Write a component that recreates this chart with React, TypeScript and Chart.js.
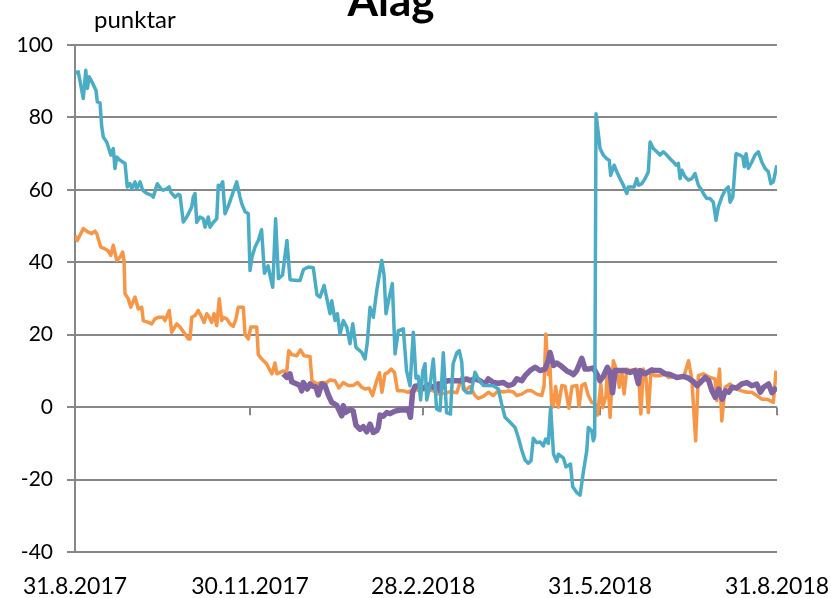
import { useEffect, useRef } from "react";
import { Chart, registerables } from "chart.js";
Chart.register(...registerables);

const TITLE = "Álag";
const UNIT_LABEL = "punktar";
const xTickDays = [0, 91, 181, 273, 365];
const xTickLabels = ["31.8.2017", "30.11.2017", "28.2.2018", "31.5.2018", "31.8.2018"];
const yMin = -40;
const yMax = 100;
const yStep = 20;

// [days after 31.8.2017, value]
const blueSeries = [[0,92.3],[1.7,92.6],[4.3,85.2],[5.6,93],[6.4,88],[7.4,91.2],[9.2,89.4],[10.9,87.5],[11.6,84.3],[13,84],[13.9,77.4],[14.7,74.6],[16.5,73.2],[17.3,71.9],[18.6,69.6],[19.9,71.4],[20.8,65.9],[21.7,69.1],[23.4,68.2],[26,67.3],[27.2,60.8],[28.6,61.7],[29.5,60.3],[31.2,62.2],[32.1,60.3],[33.8,62.2],[35.2,59.9],[37.3,59],[39.9,58.5],[40.7,58],[42.8,61.7],[44.6,60.3],[45.9,59.9],[47.7,60.3],[49,60.8],[49.8,59.4],[52,58],[53.7,58.8],[54.6,58.5],[56.3,51.1],[58.1,52.5],[59.4,53.9],[60.7,55.3],[61.5,58],[62.4,59],[63.3,51],[65,52.5],[66.7,52],[67.6,49.7],[69.3,52.5],[70.2,49.7],[71.9,51],[73.7,52],[74.5,61.3],[75.4,60.8],[76.8,62.2],[78,53.4],[79.7,55.5],[82.3,59.5],[84.1,62.2],[85.8,58],[86.7,56.2],[88.4,54],[90.1,53.4],[91,37.7],[92,41.4],[93.6,44.2],[95.3,46],[97,49],[98.5,37],[100.4,39],[101.4,36.4],[102.8,33.1],[104.3,52],[105.8,35.5],[107.9,36.5],[110.2,46],[111.8,35.2],[115.3,35],[117,35],[118.8,38],[121.3,38.7],[123.9,38.5],[125.8,31],[127.4,30.4],[129.5,33.6],[132.6,25.8],[133.5,29.4],[135.2,23.9],[136.4,25.8],[137.8,20.2],[139.5,23.9],[141.3,22.1],[143,17.5],[144.4,23],[146.1,16.5],[149.1,15.1],[150.8,13.3],[152,17.9],[153.4,27.6],[155.1,24.8],[156.9,32.2],[158.2,36.4],[159.5,40.5],[160.7,36.4],[161.7,25.8],[163.4,30.4],[165,34.1],[166.4,14.7],[168.1,21.1],[170.7,21.6],[172.4,10],[174.2,5.9],[175.9,20.7],[177.3,8],[178.5,8.5],[179.7,2],[180.8,10],[182,12],[182.9,2],[184.6,6],[186.3,13.3],[188,-0.5],[189.8,-1],[191.5,15],[193.2,-1.5],[195.2,-1.9],[196.6,12],[198.5,15],[199.8,15.6],[201.1,12.4],[201.9,5],[203.7,4],[205.9,4],[208,9.6],[209.7,7.8],[212.3,6],[214.9,6],[217.5,5.9],[220.1,5],[221.8,0.9],[223.6,-2.8],[226.2,-4.2],[228.8,-5.6],[230.5,-8.4],[232.3,-11.9],[234,-14.6],[235.7,-15.5],[237.1,-14.8],[238.3,-8.6],[240.1,-9.8],[241.8,-9.6],[243.5,-10.7],[244.7,-8.8],[246.1,-10],[247.3,0],[248.8,-13],[250.5,-15],[251.3,-13],[253.9,-14],[255.3,-16.5],[257.6,-15.7],[258.8,-22],[260.9,-23.6],[262.6,-24.3],[264.3,-18],[266.1,-12],[266.9,-5.6],[268.7,-6.5],[269.5,-9.3],[270.2,-8],[270.9,81],[273,71.4],[274.7,69.6],[276.5,68.6],[277.8,68.2],[278.5,64],[280.3,66.8],[281.7,65],[283.4,63.1],[285.1,61.3],[286.9,59],[287.7,60.8],[290.7,60.8],[292.1,63.1],[293.1,61.3],[294.7,61.7],[296.4,63.1],[298.1,65],[299,73.2],[300.7,71.4],[302.5,70.5],[304.2,69.6],[305.9,70.5],[307.7,69.6],[309.4,68.6],[311.1,67.7],[312.5,66.8],[313.7,67.3],[314.6,63.1],[315.5,65.4],[317.2,63.6],[318.9,62.7],[320.7,63.1],[322.4,64.5],[324.1,61.3],[325.9,59.9],[326.7,59],[328.5,57.6],[330.2,57.6],[331.9,56.6],[333.3,51.6],[334.5,55.3],[336.3,58],[338,59.9],[339.7,60.8],[340.6,56.6],[342,58],[343.7,70],[345.8,69.6],[347.2,69.1],[348,66.4],[348.9,70],[350.1,65.9],[351.9,67.7],[353.6,69.6],[355.3,70.5],[357.1,67.7],[358.8,65.9],[360.5,65],[361.8,61.7],[363.1,62.2],[364.9,66.8]];

const orangeSeries = [[0,47.4],[1.2,46],[4.3,49.3],[6.9,48.3],[8.7,47.9],[10.4,48.6],[11.3,47.9],[13.4,44.2],[15.6,43.7],[17.3,43.1],[18.6,41.9],[19.9,44.7],[21.7,40.5],[23.4,41.4],[24.8,42.8],[25.5,40.5],[26,31.3],[27.7,29.9],[29,27.6],[31.2,30.4],[32.9,27.1],[34.7,27.6],[35.5,23.9],[38.1,23.4],[39.9,23],[41.6,24.4],[43.3,24.8],[45.9,24.8],[46.8,23.9],[49,26.7],[50.3,20.7],[52.9,23],[54.6,22.1],[57.2,20.2],[58.9,18.8],[59.8,18.8],[60.7,24.8],[62.4,25.3],[64.1,26.7],[65.9,24.8],[67.1,23.4],[68.5,25.8],[69.8,24.8],[71.1,23.4],[72.3,25.8],[73.7,22.5],[75,29.9],[76.3,23.9],[77.1,24.8],[78.9,24.4],[80.6,23],[82.3,22.3],[83.7,24.4],[84.9,27.6],[87.5,27.6],[88.4,20],[90.1,18.8],[91.4,22.1],[94.5,22.1],[95.3,14.5],[97.1,13.3],[99.7,11.9],[101.4,10.1],[102.4,9.2],[104,12.2],[105,9.2],[108.3,10],[110.1,9.8],[111.1,15.6],[112.7,14.5],[115.3,14.2],[117.2,15.8],[119.1,14.2],[122.2,14],[123.2,7.3],[125.7,6.4],[128.3,6.8],[130.9,6.8],[132.6,7.5],[135.2,7.3],[137.2,5.3],[139.5,6.8],[142.1,6],[144.7,6],[146.9,6.8],[149.1,5.5],[150.8,5],[152.9,5.2],[154.7,3.2],[156.7,7],[158.3,9.5],[159.6,4.1],[161.2,9.2],[162.8,9.6],[164.3,10.5],[166.1,9.6],[167.7,4.5],[170.7,4.5],[173.3,4.1],[175.9,5],[179.4,4.5],[182.9,5],[186.3,4.5],[188.9,3.6],[192.4,3.8],[195,4.3],[198.5,4],[201.1,8.2],[202.8,4.5],[205.4,5.7],[208,3.2],[209.7,2.4],[212.3,3],[214.9,4.1],[217.5,3.2],[220.1,4.5],[222.7,4.2],[225.3,4.5],[227.9,4.2],[229.7,3.2],[232.3,3.6],[234.9,4.5],[237.5,4.5],[240.1,3.6],[242.7,3.2],[243.9,5.9],[244.8,20.2],[246.1,9],[247,11],[247.9,-0.1],[248.8,0.4],[249.9,5.7],[251.3,0],[253.1,6],[254.8,5.8],[256.8,-0.3],[258.4,5.7],[260.9,6],[262.1,0.2],[263.5,6],[265.2,6.5],[266.9,3.2],[268.7,1.3],[270.4,0.9],[271.7,-2.2],[273.4,6.4],[274.4,-0.1],[276.1,3.2],[276.8,11],[278.2,-2.8],[279.9,12.8],[281.7,10.1],[283,5.5],[284.3,10.1],[285.5,3.6],[286.9,10.5],[288.6,10.1],[291.7,10.5],[292.9,10.1],[294.2,-1.9],[295.5,10.5],[296.9,8.2],[298.1,-1.5],[299.4,9.2],[301.6,8.7],[304.2,8.7],[306.8,9.2],[308.5,8.2],[312,8.5],[316.4,8.2],[319,12.8],[320.7,7.8],[322.7,-9.3],[324.1,8.7],[326.7,9.2],[330.2,8.2],[332.8,7.8],[333.7,1.8],[335.1,10.5],[336.3,-3.8],[338,5.5],[340.6,6.4],[342.3,5.5],[344.1,5],[346.7,4.5],[349.3,4.1],[351.9,4.1],[354.5,3.2],[357.1,2.2],[359.7,2.2],[361.4,1.8],[363.1,1.3],[364.5,10.1]];

const purpleSeries = [[108.3,9.2],[110.1,8.2],[111.8,9.2],[112.7,7],[115.3,6.4],[117,5.9],[117.9,4.5],[118.7,6.8],[120.8,5],[122.2,6.4],[123.1,5.9],[125.3,5.5],[126.5,3.4],[128.3,6.4],[130,5.9],[131.7,3.4],[133.5,1.3],[136.1,0.5],[138.7,-2.4],[139.5,0.4],[140.4,-1.5],[143,-0.7],[144.6,-1],[146.1,-5],[148.2,-6.1],[149.9,-5.4],[151.7,-6.8],[153.4,-4.7],[155.1,-7],[156.9,-6.5],[157.7,-5.6],[158.6,-2.2],[160.3,-2.5],[162.1,-1.5],[163.8,-1.8],[166.4,-1.1],[169,-0.8],[171.6,-0.8],[173.3,-0.6],[174.4,-2.8],[175.5,4],[176.8,5.8],[178.5,5.9],[181.1,5.2],[183.7,6.1],[186.3,5.5],[188.9,6.4],[189.8,4.5],[191.5,6.8],[194.1,7.3],[197.6,7.3],[201.1,7.3],[203.7,7.8],[205.4,7.3],[208,7.8],[210.6,7.3],[213.2,6.4],[214.9,7.8],[217.5,6.8],[220.1,6.6],[222.7,6.8],[225.3,5.9],[227.9,6.4],[229.7,7.8],[232.3,7.3],[234,8.7],[236.6,10.1],[239.2,11],[241.8,10.1],[244.4,10.5],[246.1,13],[247,15.1],[248.8,11.5],[250.5,12.2],[253.1,11.2],[255.7,10],[257.4,9.6],[259.2,9],[260.9,10.1],[263.5,13.5],[265.2,10.5],[266.9,10.5],[269.5,10.8],[271.3,9.2],[273,7.3],[274.7,8.5],[276.8,11],[278.2,9.6],[279.5,4],[280.8,10.1],[283.4,10.1],[286,10.1],[288.6,9.6],[291.2,10.1],[292.9,6.5],[293.8,10.1],[296.4,9.2],[299.9,10.3],[301.6,10.1],[304.2,10.1],[306.8,9.2],[309.4,9],[312.9,8.2],[316.4,8.5],[319,8],[321.6,7],[323.4,5.9],[326,7.3],[327.7,8.2],[329.5,7.3],[331.2,4.5],[332.9,2.7],[334.7,5],[336.5,2.2],[338.2,4.5],[339.9,4.1],[341.6,5.5],[344.1,5.3],[346.7,6.4],[349.3,6.8],[351.9,5.9],[354.5,6.4],[356.3,4.1],[358,5.5],[360.6,6.4],[362.4,4],[364.9,5.5]];

const BLUE = "#4BACC6";
const ORANGE = "#F79646";
const PURPLE = "#8064A2";
const GRID = "#878787";
const FONT = "Lato, 'Open Sans', sans-serif";

export default function App() {
  const ref = useRef<HTMLCanvasElement>(null);

  useEffect(() => {
    if (!ref.current) return;
    const toPts = (s: number[][]) => s.map(([x, y]) => ({ x, y }));

    const overlay = {
      id: "overlay",
      beforeDatasetsDraw(chart: any) {
        const { ctx, scales } = chart;
        const xs = scales.x;
        const ys = scales.y;
        const y0 = ys.getPixelForValue(0);
        ctx.save();
        ctx.strokeStyle = GRID;
        ctx.lineWidth = 2;
        xTickDays.forEach((d) => {
          if (d === 0) return;
          const px = Math.round(xs.getPixelForValue(d));
          ctx.beginPath();
          ctx.moveTo(px, y0);
          ctx.lineTo(px, y0 + 8);
          ctx.stroke();
        });
        ctx.restore();
      },
      afterDraw(chart: any) {
        const { ctx } = chart;
        ctx.save();
        ctx.fillStyle = "#000";
        ctx.textAlign = "center";
        ctx.textBaseline = "alphabetic";
        ctx.font = `bold 44px ${FONT}`;
        ctx.fillText(TITLE, 391, 16);
        ctx.textAlign = "left";
        ctx.font = `24px ${FONT}`;
        ctx.fillText(UNIT_LABEL, 94, 28);
        ctx.restore();
      },
    };

    const chart = new Chart(ref.current, {
      type: "line",
      data: {
        datasets: [
          { label: "blue", data: toPts(blueSeries), borderColor: BLUE, borderWidth: 3.5, pointRadius: 0, tension: 0, borderJoinStyle: "round" },
          { label: "purple", data: toPts(purpleSeries), borderColor: PURPLE, borderWidth: 5.5, pointRadius: 0, tension: 0, borderJoinStyle: "round" },
          { label: "orange", data: toPts(orangeSeries), borderColor: ORANGE, borderWidth: 3.5, pointRadius: 0, tension: 0, borderJoinStyle: "round" },
        ],
      },
      options: {
        responsive: false,
        devicePixelRatio: 1,
        animation: false,
        layout: { padding: { top: 45, right: 54, left: 0, bottom: 0 } },
        plugins: { legend: { display: false }, tooltip: { enabled: false }, title: { display: false } },
        scales: {
          x: {
            type: "linear",
            min: 0,
            max: 365,
            afterBuildTicks: (s: any) => {
              s.ticks = xTickDays.map((v) => ({ value: v }));
            },
            afterFit: (s: any) => {
              s.height = 46;
              s.paddingLeft = 0;
              s.paddingRight = 0;
            },
            ticks: {
              autoSkip: false,
              maxRotation: 0,
              color: "#000",
              font: { family: FONT, size: 23 },
              padding: 13,
              callback: (v: any) => xTickLabels[xTickDays.indexOf(Number(v))] ?? "",
            },
            grid: { display: false },
            border: { display: false },
          },
          y: {
            min: yMin,
            max: yMax,
            afterFit: (s: any) => {
              s.width = 75;
              s.paddingTop = 0;
              s.paddingBottom = 0;
            },
            ticks: { stepSize: yStep, color: "#000", font: { family: FONT, size: 21 }, padding: 14 },
            grid: { color: GRID, lineWidth: 2, tickLength: 8 },
            border: { display: true, color: GRID, width: 2 },
          },
        },
      },
      plugins: [overlay],
    } as any);
    return () => chart.destroy();
  }, []);

  return (
    <div style={{ position: "absolute", left: 0, top: 0, width: 831, height: 598 }}>
      <canvas ref={ref} width={831} height={598} style={{ width: 831, height: 598, display: "block" }} />
    </div>
  );
}
